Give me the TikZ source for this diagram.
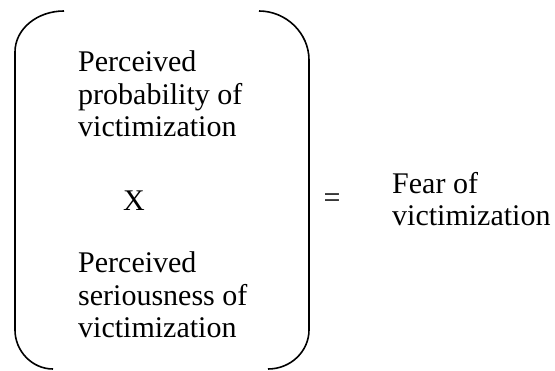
\documentclass[tikz,border=0pt]{standalone}
\usepackage{fontspec}
\setmainfont{Liberation Serif}
\begin{document}
\begin{tikzpicture}[x=1pt,y=-1pt,
  txt/.style={anchor=base west,inner sep=0pt,font=\fontsize{30}{32}\selectfont}]
\useasboundingbox (0,0) rectangle (555,371);

\draw[line width=1.6pt]  (64,11) .. controls (37,11) and (15,29) .. (15,52) -- (15,330) .. controls (15,351) and (32,369) .. (53,369);
\draw[line width=1.6pt]  (259,11) .. controls (286,11) and (309,33) .. (309,60) -- (309,330) .. controls (309,351) and (291,369) .. (268,369);

\node[txt] (pa) at (78,72) {Perceived};
\node[txt] (pb) at (78,104.5) {probability of};
\node[txt] (pc) at (78,137) {victimization};
\node[txt] (times) at (123,211) {X};
\node[txt] (sa) at (78,273) {Perceived};
\node[txt] (sb) at (78,305.5) {seriousness of};
\node[txt] (sc) at (78,338) {victimization};
\node[txt] (eq) at (323.5,208) {=};
\node[txt] (fa) at (392,194) {Fear of};
\node[txt] (fb) at (392,226) {victimization};
\end{tikzpicture}
\end{document}
